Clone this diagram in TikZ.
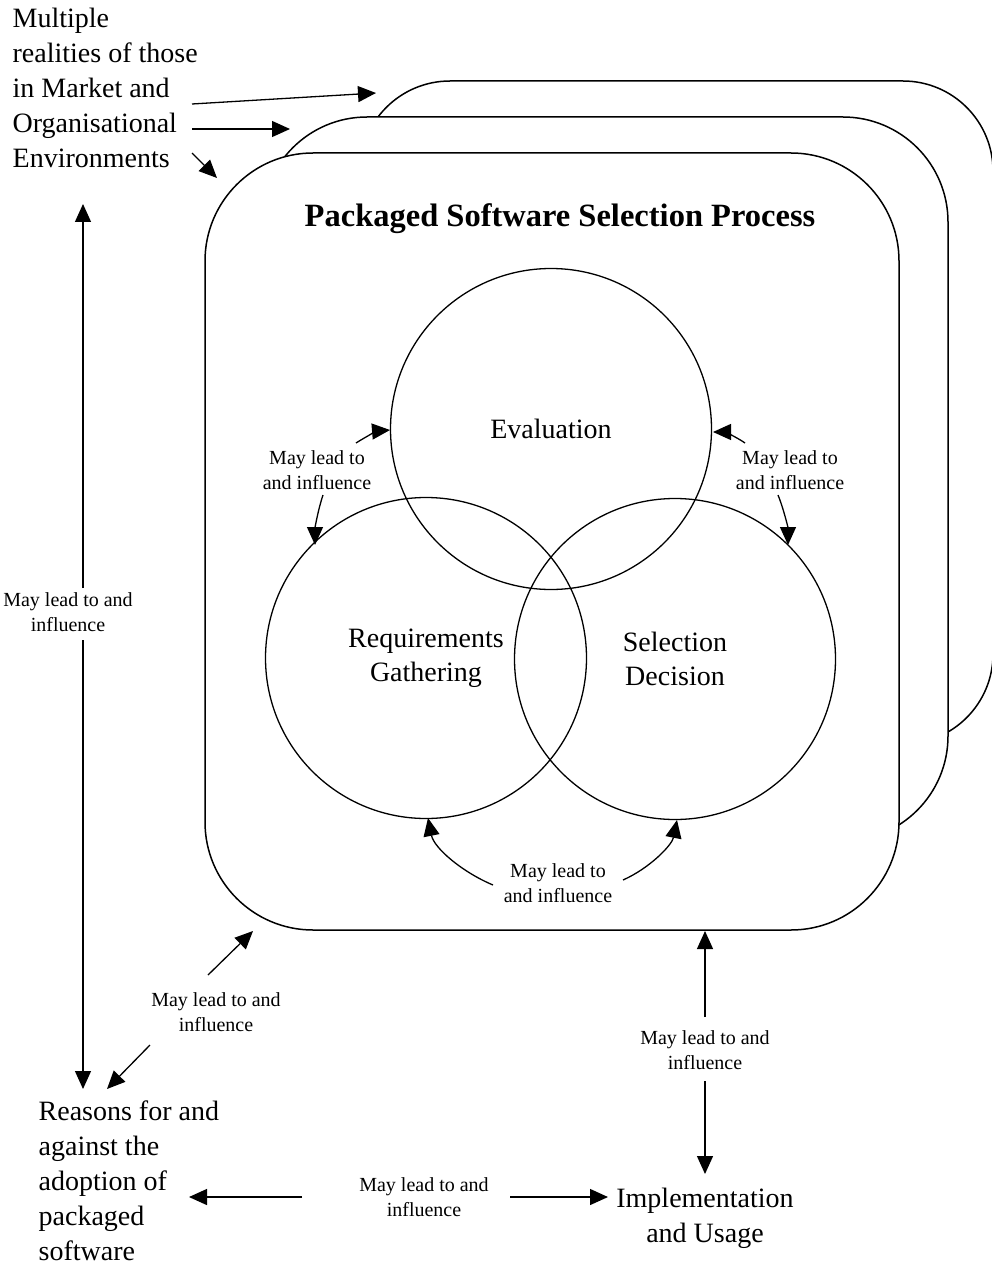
\documentclass[tikz,border=0pt]{standalone}
\usepackage{fontspec}
\setmainfont{Liberation Serif}
\usetikzlibrary{arrows.meta}
\begin{document}
\begin{tikzpicture}[x=1pt,y=-1pt,
  line width=1.3pt,
  stackbox/.style={draw, fill=white, inner sep=0pt, outer sep=0pt, line width=1.5pt},
  phase/.style={draw, circle, minimum size=321pt, inner sep=0pt, align=center,
    font=\fontsize{28}{34}\selectfont},
  bigtext/.style={inner sep=0pt, font=\fontsize{28}{35}\selectfont},
  smalltext/.style={inner sep=0pt, align=center, font=\fontsize{20}{24.5}\selectfont},
  arr/.style={-{Triangle[length=18pt,width=16pt]}},
]
\useasboundingbox (0,0) rectangle (991,1265);

% stacked process boxes (back to front)
\node[stackbox, minimum width=633pt, minimum height=663pt, rounded corners=90pt] (backbox) at (676.5,412.5) {};
\node[stackbox, minimum width=686pt, minimum height=724pt, rounded corners=105pt] (midbox) at (605,479) {};
\node[stackbox, minimum width=694pt, minimum height=777pt, rounded corners=108pt] (frontbox) at (552,541.5) {};

\node[inner sep=0pt, font=\fontsize{32.5}{38}\selectfont\bfseries] (title) at (560,219) {Packaged Software Selection Process};

% the three overlapping phases
\node[phase] (eval) at (551,429) {Evaluation};
\node[phase] (req) at (426,658) {Requirements\\Gathering};
\node[phase] (sel) at (675,659) {Selection\\Decision};

% outer texts
\node[bigtext, anchor=west, align=left] (env) at (12,88) {Multiple\\realities of those\\in Market and\\Organisational\\Environments};
\node[bigtext, anchor=west, align=left] (reasons) at (38,1181) {Reasons for and\\against the\\adoption of\\packaged\\software};
\node[bigtext, align=center] (impl) at (705,1218) {Implementation\\and Usage};

% influence labels
\node[smalltext] (ltl) at (317,470) {May lead to\\and influence};
\node[smalltext] (ltr) at (790,470) {May lead to\\and influence};
\node[smalltext] (lbot) at (558,883) {May lead to\\and influence};
\node[smalltext] (lvert) at (68,612) {May lead to and\\influence};
\node[smalltext] (lbl) at (216,1012) {May lead to and\\influence};
\node[smalltext] (lrv) at (705,1050) {May lead to and\\influence};
\node[smalltext] (lhor) at (424,1197) {May lead to and\\influence};

% connector end points
\coordinate (e1s) at (192,104); \coordinate (e1t) at (376,93);
\coordinate (e2s) at (192,129); \coordinate (e2t) at (290,129);
\coordinate (e3s) at (192,153); \coordinate (e3t) at (217,178);

\coordinate (tl1s) at (356,443); \coordinate (tl1t) at (390,430);
\coordinate (tl2s) at (323,495); \coordinate (tl2t) at (315,545);
\coordinate (tr1s) at (745,443); \coordinate (tr1t) at (713,432);
\coordinate (tr2s) at (778,495); \coordinate (tr2t) at (788,545);
\coordinate (b1s) at (493,885); \coordinate (b1t) at (428,818);
\coordinate (b2s) at (623,880); \coordinate (b2t) at (677,820);

\coordinate (v1s) at (83,588); \coordinate (v1t) at (83,204);
\coordinate (v2s) at (83,640); \coordinate (v2t) at (83,1089);
\coordinate (d1s) at (208,975); \coordinate (d1t) at (253,931);
\coordinate (d2s) at (150,1045); \coordinate (d2t) at (107,1089);
\coordinate (r1s) at (705,1017); \coordinate (r1t) at (705,931);
\coordinate (r2s) at (705,1081); \coordinate (r2t) at (705,1174);
\coordinate (h1s) at (302,1197); \coordinate (h1t) at (189,1197);
\coordinate (h2s) at (510,1197); \coordinate (h2t) at (608,1197);

% environment arrows towards the boxes
\draw[arr] (e1s) -- (e1t);
\draw[arr] (e2s) -- (e2t);
\draw[arr] (e3s) -- (e3t);

% curved influence arrows between phases
\draw[arr] (tl1s) .. controls (367,436) and (378,431) .. (tl1t);
\draw[arr] (tl2s) .. controls (318,510) and (315,528) .. (tl2t);
\draw[arr] (tr1s) .. controls (735,436) and (723,432) .. (tr1t);
\draw[arr] (tr2s) .. controls (784,510) and (788,528) .. (tr2t);
\draw[arr] (b1s) .. controls (462,872) and (434,848) .. (b1t);
\draw[arr] (b2s) .. controls (650,868) and (672,845) .. (b2t);

% straight influence arrows outside the process
\draw[arr] (v1s) -- (v1t);
\draw[arr] (v2s) -- (v2t);
\draw[arr] (d1s) -- (d1t);
\draw[arr] (d2s) -- (d2t);
\draw[arr] (r1s) -- (r1t);
\draw[arr] (r2s) -- (r2t);
\draw[arr] (h1s) -- (h1t);
\draw[arr] (h2s) -- (h2t);
\end{tikzpicture}
\end{document}
